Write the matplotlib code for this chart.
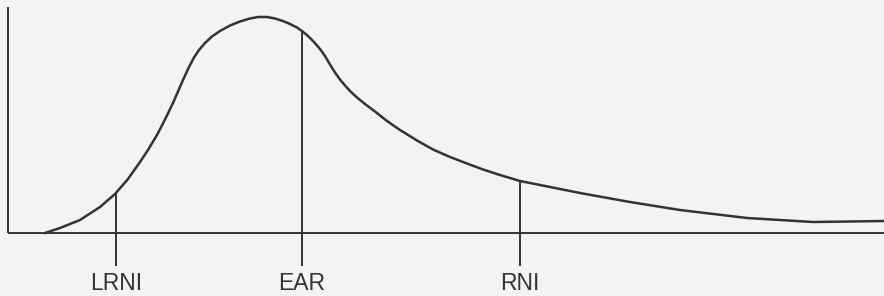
import matplotlib
matplotlib.use("Agg")
import matplotlib.pyplot as plt

# Curve (x position, height above baseline)
curve_x = [45, 48, 60, 80, 100, 115, 128, 140, 148, 157, 165, 173, 183, 189, 194, 199,
           205, 212, 220, 230, 240, 250, 258, 267, 275, 283, 290, 297, 302, 308, 314,
           320, 325, 330, 335, 340, 345, 350, 357, 365, 375, 387, 400, 417, 433, 450,
           467, 483, 500, 520, 550, 580, 630, 680, 747, 813, 850, 884]
curve_y = [0, 1, 5, 13, 26, 39, 54, 71, 83, 98, 113.5, 130, 153, 166, 175.5, 183,
           190, 196.5, 202, 207.5, 211.5, 214.5, 216, 216, 214.5, 212, 209, 205.5, 202, 197, 191,
           184, 177, 168.5, 160.5, 153.5, 147.5, 142, 135.5, 129, 121.5, 112, 103, 92.5, 83.5, 76,
           69.5, 63.5, 58, 52, 46, 40, 31, 23, 15, 11, 11.5, 12]

# Reference markers
marker_x = [116, 302, 520]
marker_top = [39, 202, 52]
marker_labels = ["LRNI", "EAR", "RNI"]

bg = "#f3f3f3"
ink = "#333333"

fig = plt.figure(figsize=(8.84, 2.96), dpi=100, facecolor=bg)
ax = fig.add_axes([0, 0, 1, 1])
ax.set_facecolor(bg)
ax.set_xlim(0, 884)
ax.set_ylim(-63, 233)
ax.axis("off")

# axes
ax.plot([8, 884], [0, 0], color=ink, lw=1.4, solid_capstyle="butt")
ax.plot([8, 8], [0, 226], color=ink, lw=1.4, solid_capstyle="butt")

# curve
ax.plot(curve_x, curve_y, color=ink, lw=1.8, solid_joinstyle="round")

# markers
for x, top, lab in zip(marker_x, marker_top, marker_labels):
    ax.plot([x, x], [-33, top], color=ink, lw=1.4, solid_capstyle="butt")
    ax.text(x, -57, lab, ha="center", va="baseline", fontsize=16.5,
            family="Liberation Sans", color=ink)

fig.savefig("out.png", dpi=100, facecolor=bg)
